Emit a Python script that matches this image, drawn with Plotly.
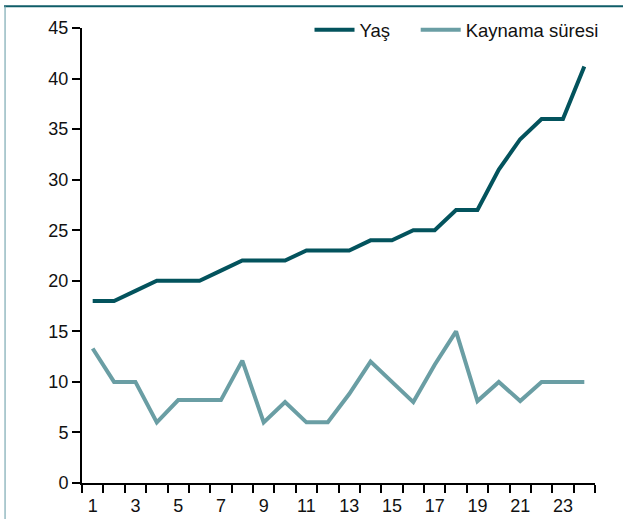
import plotly.graph_objects as go

categories = list(range(1, 25))
yas = [18, 18, 19, 20, 20, 20, 21, 22, 22, 22, 23, 23, 23, 24, 24, 25, 25, 27, 27, 31, 34, 36, 36, 41.2]
kaynama = [13.3, 10, 10, 6, 8.2, 8.2, 8.2, 12.1, 6, 8, 6, 6, 8.8, 12, 10, 8, 11.7, 15, 8.1, 10, 8.1, 10, 10, 10]
x_tick_vals = list(range(1, 24, 2))
x_tick_text = [str(v) for v in x_tick_vals]
y_tick_vals = list(range(0, 46, 5))

FONT = "Liberation Sans, Arial, sans-serif"
DARK = "#03535d"
LIGHT = "#6a9ea4"

fig = go.Figure()
fig.add_trace(go.Scatter(x=categories, y=yas, mode="lines", name="Yaş",
                         line=dict(color=DARK, width=4), legend="legend"))
fig.add_trace(go.Scatter(x=categories, y=kaynama, mode="lines", name="Kaynama süresi",
                         line=dict(color=LIGHT, width=4), legend="legend2"))

legend_common = dict(orientation="h", y=0.995, yanchor="middle", xanchor="left",
                     bgcolor="rgba(0,0,0,0)", font=dict(size=18.5), itemwidth=40)

fig.update_layout(
    width=623, height=519,
    margin=dict(l=82, r=28, t=28, b=36, autoexpand=False),
    paper_bgcolor="white", plot_bgcolor="white",
    font=dict(family=FONT, size=18, color="#111111"),
    showlegend=True,
    legend=dict(x=0.4435, **legend_common),
    legend2=dict(x=0.6505, **legend_common),
    xaxis=dict(range=[0.5, 24.5], tickmode="array", tickvals=x_tick_vals, ticktext=x_tick_text,
               ticks="outside", ticklen=5, tickcolor="rgba(0,0,0,0)",
               showgrid=False, zeroline=False, showline=True,
               linecolor="black", linewidth=2,
               minor=dict(tick0=0.5, dtick=1, ticks="outside", ticklen=8, tickwidth=2,
                          tickcolor="black", showgrid=False),
               tickfont=dict(size=18), fixedrange=True),
    yaxis=dict(range=[0, 45], tickvals=y_tick_vals, ticks="outside", ticklen=8, tickwidth=2,
               tickcolor="black", showgrid=False, zeroline=False, showline=True,
               linecolor="black", linewidth=2, tickfont=dict(size=18), fixedrange=True),
    shapes=[
        dict(type="line", xref="paper", yref="paper", x0=-0.152, x1=1.1, y0=1.048, y1=1.048,
             line=dict(color="#0f5d68", width=2)),
        dict(type="line", xref="paper", yref="paper", x0=-0.150, x1=-0.150, y0=1.048, y1=-0.2,
             line=dict(color="#7aa9b2", width=1.2)),
    ],
)

fig.write_html("out.html", config={"displayModeBar": False},
               post_script="document.body.style.margin='0';document.body.style.padding='0';")
